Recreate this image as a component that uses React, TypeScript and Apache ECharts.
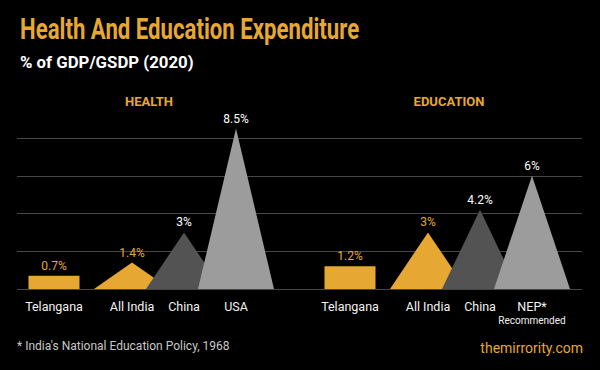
import React, { useEffect, useRef } from "react";
import * as echarts from "echarts";

const HEALTH_CATEGORIES = ["Telangana", "All India", "China", "USA"];
const HEALTH_VALUES = [0.7, 1.4, 3, 8.5];
const EDU_CATEGORIES = ["Telangana", "All India", "China", "NEP*\nRecommended"];
const EDU_VALUES = [1.2, 3, 4.2, 6];
const Y_MAX = 8;
const Y_INTERVAL = 2;

// layout (slot positions on the category axis)
const SLOTS = [0, 3, 5, 7];
const NSLOTS = 8;

const GOLD = "#E6A832";
const FILL_COLORS = [GOLD, GOLD, "#535353", "#9C9C9C"];
const LABEL_COLORS = [GOLD, GOLD, "#FFFFFF", "#FFFFFF"];
const FONT = "Roboto";

function slotCategories(cats: string[]) {
  const arr: string[] = new Array(NSLOTS).fill("");
  cats.forEach((c, i) => (arr[SLOTS[i]] = c));
  return arr;
}

function renderItem(params: any, api: any) {
  const i = params.dataIndex;
  const x = api.value(0);
  const v = api.value(1);
  const base = api.coord([x, 0]);
  const top = api.coord([x, v]);
  const shape =
    i === 0
      ? {
          type: "rect",
          shape: { x: base[0] - 25.5, y: top[1], width: 51, height: base[1] - top[1] },
          style: { fill: FILL_COLORS[i] },
        }
      : {
          type: "polygon",
          shape: {
            points: [
              [base[0] - 38, base[1]],
              [top[0], top[1]],
              [base[0] + 38, base[1]],
            ],
          },
          style: { fill: FILL_COLORS[i] },
        };
  return {
    type: "group",
    children: [
      shape,
      {
        type: "text",
        x: top[0],
        y: top[1] - 4,
        style: {
          text: String(v) + "%",
          fill: LABEL_COLORS[i],
          font: `12px ${FONT}`,
          textAlign: "center",
          textVerticalAlign: "bottom",
        },
      },
    ],
  };
}

const TOP = 138;
const BOTTOM = 370 - 289;

function catAxis(gridIndex: number, cats: string[]) {
  return {
    type: "category",
    gridIndex,
    data: slotCategories(cats),
    boundaryGap: true,
    axisLine: { show: false },
    axisTick: { show: false },
    axisLabel: {
      interval: 0,
      color: "#F2F2F2",
      fontFamily: FONT,
      fontSize: 12.5,
      lineHeight: 16,
      margin: 9,
      formatter: (val: string) => {
        if (val.indexOf("\n") >= 0) {
          const [a, b] = val.split("\n");
          return `{a|${a}}\n{b|${b}}`;
        }
        return val;
      },
      rich: {
        a: { fontFamily: FONT, fontSize: 12.5, lineHeight: 16, color: "#F2F2F2" },
        b: { fontFamily: FONT, fontSize: 10, lineHeight: 12, color: "#F2F2F2" },
      },
    },
  };
}

function hiddenY(gridIndex: number) {
  return {
    type: "value",
    gridIndex,
    min: 0,
    max: Y_MAX,
    interval: Y_INTERVAL,
    show: false,
    splitLine: { show: false },
  };
}

export default function App() {
  const ref = useRef<HTMLDivElement>(null);
  useEffect(() => {
    document.body.style.margin = "0";
    document.body.style.background = "#000";
    const chart = echarts.init(ref.current!, null, { renderer: "svg" });
    chart.setOption({
      animation: false,
      backgroundColor: "#000000",
      grid: [
        { left: 17, right: 18, top: TOP, bottom: BOTTOM },
        { left: 41, width: 26 * NSLOTS, top: TOP, bottom: BOTTOM },
        { left: 337, width: 26 * NSLOTS, top: TOP, bottom: BOTTOM },
      ],
      xAxis: [
        { type: "value", gridIndex: 0, min: 0, max: 1, show: false, splitLine: { show: false } },
        catAxis(1, HEALTH_CATEGORIES),
        catAxis(2, EDU_CATEGORIES),
      ],
      yAxis: [
        {
          type: "value",
          gridIndex: 0,
          min: 0,
          max: Y_MAX,
          interval: Y_INTERVAL,
          axisLine: { show: false },
          axisTick: { show: false },
          axisLabel: { show: false },
          splitLine: { show: true, lineStyle: { color: "#474747", width: 1 } },
        },
        hiddenY(1),
        hiddenY(2),
      ],
      series: [
        {
          type: "custom",
          xAxisIndex: 1,
          yAxisIndex: 1,
          clip: false,
          renderItem,
          data: HEALTH_VALUES.map((v, i) => [SLOTS[i], v]),
        },
        {
          type: "custom",
          xAxisIndex: 2,
          yAxisIndex: 2,
          clip: false,
          renderItem,
          data: EDU_VALUES.map((v, i) => [SLOTS[i], v]),
        },
      ],
      graphic: [
        {
          type: "text",
          x: 20,
          y: 14,
          scaleX: 0.74,
          style: {
            text: "Health And Education Expenditure",
            fill: GOLD,
            font: `bold 30px ${FONT}`,
            textVerticalAlign: "top",
          },
        },
        {
          type: "text",
          x: 20,
          y: 53,
          style: {
            text: "% of GDP/GSDP (2020)",
            fill: "#FFFFFF",
            font: `bold 16.8px ${FONT}`,
            textVerticalAlign: "top",
          },
        },
        {
          type: "text",
          x: 149,
          y: 101,
          style: {
            text: "HEALTH",
            fill: GOLD,
            font: `bold 13px ${FONT}`,
            textAlign: "center",
            textVerticalAlign: "middle",
          },
        },
        {
          type: "text",
          x: 449,
          y: 101,
          style: {
            text: "EDUCATION",
            fill: GOLD,
            font: `bold 13px ${FONT}`,
            textAlign: "center",
            textVerticalAlign: "middle",
          },
        },
        {
          type: "text",
          x: 17,
          y: 346,
          style: {
            text: "* India's National Education Policy, 1968",
            fill: "#C8C8C8",
            font: `12px ${FONT}`,
            textVerticalAlign: "middle",
          },
        },
        {
          type: "text",
          x: 583,
          y: 348,
          style: {
            text: "themirrority.com",
            fill: GOLD,
            font: `14px ${FONT}`,
            textAlign: "right",
            textVerticalAlign: "middle",
          },
        },
      ],
    });
    return () => chart.dispose();
  }, []);
  return <div ref={ref} style={{ width: 600, height: 370 }} />;
}
